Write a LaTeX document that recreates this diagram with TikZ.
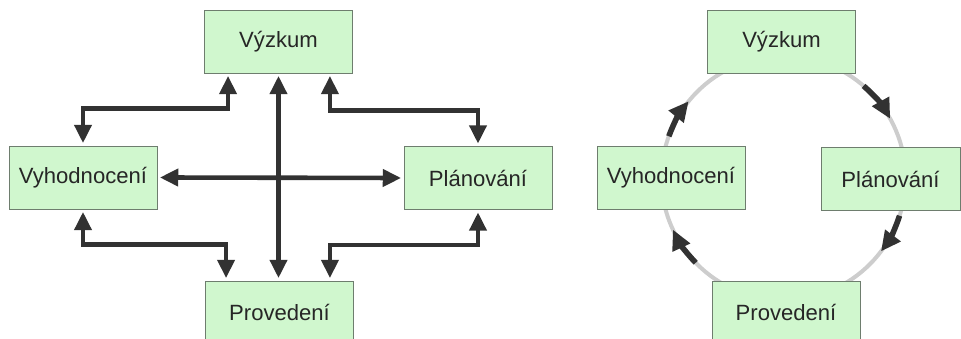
\documentclass[tikz,border=0pt]{standalone}
\usepackage{fontspec}
\setmainfont{Liberation Sans}
\usepackage{tikz}
\usetikzlibrary{arrows.meta,positioning,calc}

\definecolor{boxfill}{RGB}{208,247,206}
\definecolor{boxline}{RGB}{110,125,110}
\definecolor{linkgray}{RGB}{50,50,50}
\definecolor{ringgray}{RGB}{205,205,205}

\begin{document}
\begin{tikzpicture}[x=0.025cm, y=0.025cm]
			\tikzstyle{Box}		= [rectangle, draw=boxline, line width=0.6pt, fill=boxfill, minimum width=3.7cm, minimum height=1.575cm, inner sep=0pt, text=black!85, font=\fontsize{15.7}{19}\selectfont]
			\tikzstyle{Link}	= [line width=0.115cm, linkgray, {Triangle[length=0.46cm, width=0.42cm]}-{Triangle[length=0.46cm, width=0.42cm]}, shorten <=0.06cm, shorten >=0.06cm]
			\tikzstyle{Ring}	= [line width=0.1cm, ringgray]
			\tikzstyle{Turn}	= [line width=0.14cm, linkgray, -{Triangle[length=0.5cm, width=0.46cm]}]

			\useasboundingbox (0,0) rectangle (961,-339);

			% left: every phase linked with every other
			\node (vyz) at (278.5,-41.5) [Box] {Výzkum};
			\node (vyh) at (83,-177.5) [Box] {Vyhodnocení};
			\node (pla) at (478,-178) [Box] {Plánování};
			\node (pro) at (279.5,-312.5) [Box] {Provedení};

			\draw [Link] ($(vyz.south west)+(24,0)$) -- ++(0,-35) -| (vyh.north);
			\draw [Link] ($(vyz.south east)+(-23,0)$) -- ++(0,-37) -| (pla.north);
			\draw [Link] (vyz.south) -- (vyz.south |- pro.north);
			\draw [Link] (vyh.east) -- (pla.west);
			\draw [Link] (vyh.south) -- ++(0,-35) -| ($(pro.north west)+(21,0)$);
			\draw [Link] (pla.south) -- ++(0,-35) -| ($(pro.north east)+(-24,0)$);

			% right: the cycle
			\coordinate (ring) at (783.5,-178);
			\draw [Ring] (ring) circle [radius=3.05cm];

			\draw [Turn] ($(ring)+(49:3.05cm)$) arc [start angle=49, end angle=29, radius=3.05cm];
			\draw [Turn] ($(ring)+(-18:3.05cm)$) arc [start angle=-18, end angle=-37, radius=3.05cm];
			\draw [Turn] ($(ring)+(224:3.05cm)$) arc [start angle=224, end angle=205, radius=3.05cm];
			\draw [Turn] ($(ring)+(160:3.05cm)$) arc [start angle=160, end angle=141, radius=3.05cm];

			\node (vyz2) at (781.5,-41.5) [Box] {Výzkum};
			\node (vyh2) at (671,-177.5) [Box] {Vyhodnocení};
			\node (pla2) at (890.5,-179) [Box, minimum width=3.475cm] {Plánování};
			\node (pro2) at (786,-312.5) [Box] {Provedení};

		\end{tikzpicture}
\end{document}
